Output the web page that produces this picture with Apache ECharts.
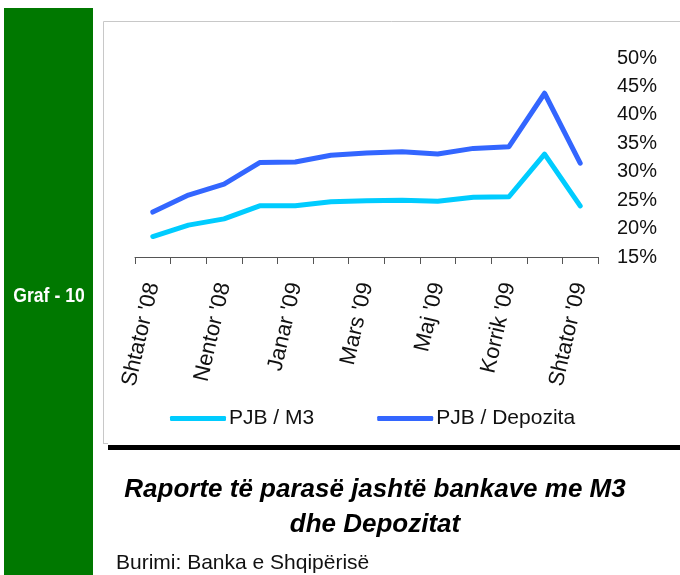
<!DOCTYPE html>
<html><head><meta charset="utf-8">
<script src="https://cdn.jsdelivr.net/npm/echarts@6/dist/echarts.min.js"></script>
<style>html,body{margin:0;padding:0;background:#fff}#c{width:680px;height:575px}</style>
</head><body><div id="c"></div>
<script>
const categories = ["Shtator '08","Tetor '08","Nentor '08","Dhjetor '08","Janar '09","Shkurt '09","Mars '09","Prill '09","Maj '09","Qershor '09","Korrik '09","Gusht '09","Shtator '09"];
const pjbM3 = [18.6, 20.6, 21.7, 24.0, 24.0, 24.7, 24.9, 25.0, 24.8, 25.5, 25.6, 33.1, 24.0];
const pjbDepozita = [22.9, 25.9, 27.8, 31.6, 31.7, 32.9, 33.3, 33.5, 33.1, 34.1, 34.4, 43.8, 31.5];
const yTicks = {min: 15, max: 50, step: 5};
const titleLines = ["Raporte të parasë jashtë bankave me M3", "dhe Depozitat"];
const sourceText = "Burimi: Banka e Shqipërisë";
const sideLabel = "Graf - 10";

const chart = echarts.init(document.getElementById('c'), null, {renderer: 'canvas'});
chart.setOption({
  animation: false,
  backgroundColor: '#fff',
  grid: {left: 135, right: 82, top: 58, bottom: 318, containLabel: false},
  xAxis: {
    type: 'category', data: categories, boundaryGap: true,
    axisLine: {lineStyle: {color: '#555', width: 1}},
    axisTick: {show: true, interval: 0, length: 7, lineStyle: {color: '#555'}},
    axisLabel: {interval: 1, rotate: 77, margin: 26, color: '#111', fontSize: 22, fontFamily: 'Liberation Sans'}
  },
  yAxis: {
    type: 'value', position: 'right', min: yTicks.min, max: yTicks.max, interval: yTicks.step,
    axisLine: {show: false}, axisTick: {show: false}, splitLine: {show: false},
    axisLabel: {formatter: '{value}%', margin: 19, color: '#111', fontSize: 20, fontFamily: 'Liberation Sans'}
  },
  legend: {
    left: 165, top: 403, icon: 'roundRect', itemWidth: 56, itemHeight: 5, itemGap: 63,
    textStyle: {fontSize: 21, color: '#111', fontFamily: 'Liberation Sans', padding: [0,0,0,-2]},
    data: ['PJB / M3', 'PJB / Depozita']
  },
  series: [
    {name: 'PJB / M3', type: 'line', data: pjbM3, showSymbol: false, symbol: 'none', color: '#00CCFF',
     lineStyle: {width: 5, color: '#00CCFF', cap: 'round', join: 'round'}},
    {name: 'PJB / Depozita', type: 'line', data: pjbDepozita, showSymbol: false, symbol: 'none', color: '#3366FF',
     lineStyle: {width: 5, color: '#3366FF', cap: 'round', join: 'round'}}
  ],
  graphic: [
    {type: 'rect', shape: {x: 4, y: 8, width: 89, height: 567}, style: {fill: '#007800'}, z: -1},
    {type: 'text', x: 49, y: 296, scaleX: 0.88, style: {text: sideLabel, fill: '#fff', font: 'bold 20px "Liberation Sans", Arial, sans-serif', align: 'center', verticalAlign: 'middle'}},
    {type: 'polyline', shape: {points: [[103.5, 443.5], [103.5, 21.5], [680, 21.5]]}, style: {stroke: '#c8c8c8', lineWidth: 1, fill: null}, z: -1},
    {type: 'line', shape: {x1: 103, y1: 443.5, x2: 108, y2: 443.5}, style: {stroke: '#c8c8c8', lineWidth: 1}, z: -1},
    {type: 'rect', shape: {x: 108, y: 445, width: 572, height: 5}, style: {fill: '#000'}},
    {type: 'text', x: 375, y: 490, style: {text: titleLines[0], fill: '#000', font: 'italic bold 26px "Liberation Sans", Arial, sans-serif', align: 'center', verticalAlign: 'middle'}},
    {type: 'text', x: 375, y: 525, style: {text: titleLines[1], fill: '#000', font: 'italic bold 26px "Liberation Sans", Arial, sans-serif', align: 'center', verticalAlign: 'middle'}},
    {type: 'text', x: 116, y: 563, style: {text: sourceText, fill: '#111', font: '21px "Liberation Sans", Arial, sans-serif', align: 'left', verticalAlign: 'middle'}}
  ]
});
</script></body></html>
